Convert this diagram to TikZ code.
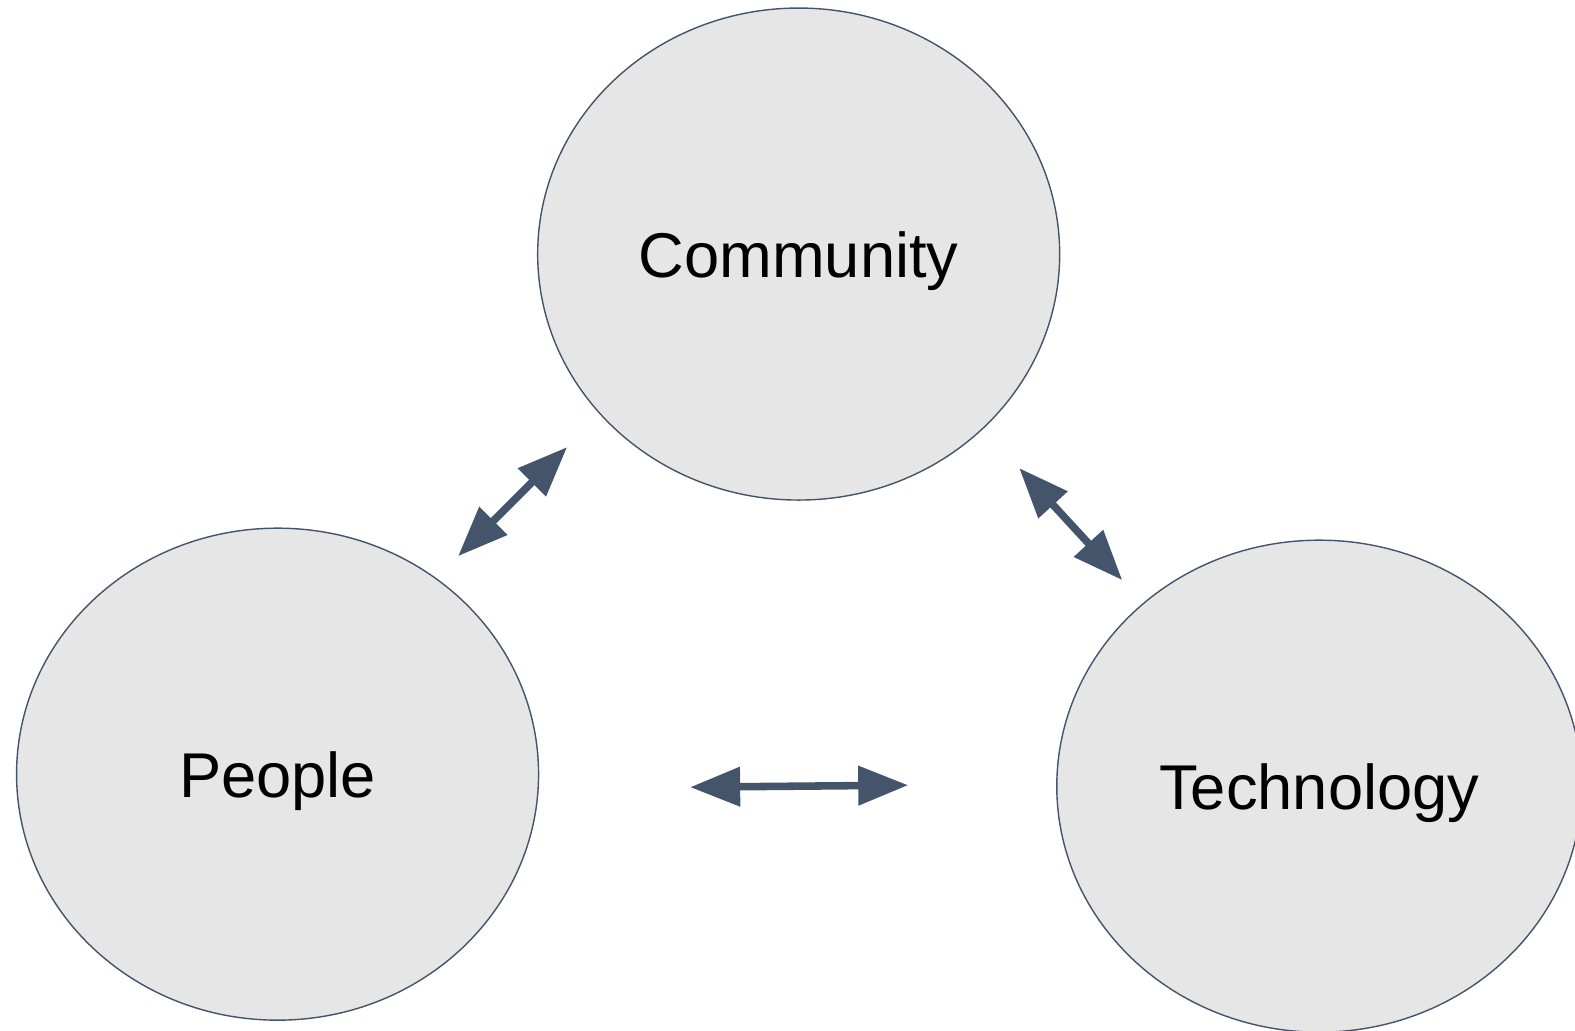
\documentclass[tikz,border=0pt]{standalone}
\usepackage{fontspec}
\setmainfont{Liberation Sans}
\usetikzlibrary{arrows.meta,shapes.geometric}

\definecolor{slate}{HTML}{44546A}
\definecolor{bubblefill}{HTML}{E6E6E6}

\tikzset{%
    bubble/.style={ellipse,draw=slate,line width=0.8pt,fill=bubblefill,inner sep=0pt,
        minimum width=10.44cm,minimum height=9.84cm,text height=27pt,text depth=0pt,
        font=\fontsize{36}{40}\selectfont},
    link/.style={{Triangle[length=1cm,width=0.76cm]}-{Triangle[length=1cm,width=0.76cm]},
        draw=slate,line width=4.3pt},
}

\begin{document}
\begin{tikzpicture}

\def\px{0.02}

\useasboundingbox (0,0) rectangle (31.5,-20.62);

% the three bubbles
\node [bubble] (community) at (798.5*\px, -254*\px) {Community};
\node [bubble] (people) at (277.5*\px, -774*\px) {People};
\node [bubble,minimum width=10.5cm] (technology) at (1319*\px, -786*\px) {Technology};

% arrow ends
\coordinate (pc) at (458*\px, -556*\px);
\coordinate (cp) at (567*\px, -447*\px);
\coordinate (ct) at (1019*\px, -468*\px);
\coordinate (tc) at (1122*\px, -580*\px);
\coordinate (pt) at (690*\px, -787*\px);
\coordinate (tp) at (908*\px, -785*\px);

% arrows
\draw [link] (pc) -- (cp);
\draw [link] (ct) -- (tc);
\draw [link] (pt) -- (tp);

\end{tikzpicture}
\end{document}
